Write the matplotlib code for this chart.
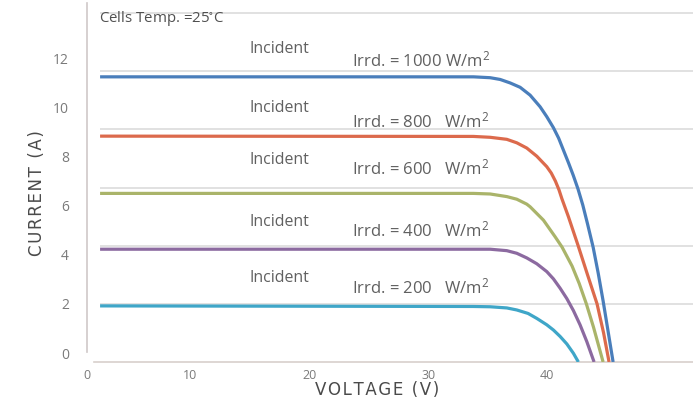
import matplotlib.pyplot as plt

plt.rcParams['font.family'] = ['Open Sans', 'DejaVu Sans']
plt.rcParams['mathtext.default'] = 'regular'

# I-V curves: voltage (V), current (A)
v_1000 = [2.4, 33.81, 35.21, 36.05, 36.89, 37.73, 38.57, 39.41, 39.97, 40.53, 40.97, 41.37,
          41.80, 42.20, 42.60, 43.00, 43.40, 43.87, 44.30, 44.71, 45.13, 45.55]
i_1000 = [9.81, 9.81, 9.78, 9.72, 9.60, 9.45, 9.18, 8.78, 8.44, 8.06, 7.70, 7.29,
          6.85, 6.42, 5.95, 5.40, 4.75, 3.95, 3.05, 2.10, 1.05, 0.0]
v_800 = [2.4, 33.8, 35.21, 36.61, 37.45, 38.29, 39.13, 39.97, 40.35, 40.70, 41.00, 41.24,
         41.79, 42.61, 43.40, 44.20, 44.75, 45.21]
i_800 = [7.77, 7.76, 7.73, 7.66, 7.54, 7.36, 7.08, 6.72, 6.50, 6.22, 5.92, 5.62,
         5.00, 4.00, 3.00, 2.00, 1.00, 0.0]
v_600 = [2.4, 33.81, 35.21, 36.61, 37.45, 38.29, 38.57, 39.69, 40.67, 41.26, 42.10, 42.70,
         43.30, 43.90, 44.71]
i_600 = [5.80, 5.80, 5.78, 5.69, 5.60, 5.43, 5.34, 4.88, 4.31, 3.95, 3.30, 2.70,
         2.00, 1.20, 0.0]
v_400 = [2.4, 33.8, 35.21, 36.61, 37.45, 38.29, 39.13, 39.97, 40.53, 41.09, 41.66, 42.21,
         42.77, 43.34, 43.95]
i_400 = [3.88, 3.88, 3.88, 3.83, 3.74, 3.58, 3.38, 3.11, 2.86, 2.54, 2.18, 1.77,
         1.28, 0.70, 0.0]
v_200 = [2.4, 33.8, 35.21, 36.61, 37.45, 38.4, 39.13, 39.97, 40.53, 41.09, 41.66, 42.21, 42.63]
i_200 = [1.93, 1.91, 1.90, 1.86, 1.79, 1.67, 1.50, 1.28, 1.10, 0.88, 0.62, 0.30, 0.0]

curves = [(v_1000, i_1000, '#4a7ebb'), (v_800, i_800, '#dc6a4c'),
          (v_600, i_600, '#aab46a'), (v_400, i_400, '#8c6aa0'),
          (v_200, i_200, '#3fa6c8')]

irrd_labels = ['Irrd. = 1000 W/m$^2$', 'Irrd. = 800   W/m$^2$', 'Irrd. = 600   W/m$^2$',
               'Irrd. = 400   W/m$^2$', 'Irrd. = 200   W/m$^2$']
irrd_y = [10.38, 8.29, 6.67, 4.54, 2.58]
incident_y = [10.76, 8.73, 6.95, 4.82, 2.89]

grid_y = [2, 4, 6, 8, 10, 12]
xtick_pos = [1.3, 10, 20, 30, 40]
xtick_lab = ['0', '10', '20', '30', '40']
ytick_lab = [0, 2, 4, 6, 8, 10, 12]

fig = plt.figure(figsize=(6.93, 4.03), dpi=100)
ax = fig.add_axes([87 / 693, 41 / 403, 606 / 693, 359 / 403])
ax.set_xlim(1.34, 52.27)
ax.set_ylim(0, 12.35)

ax.hlines(grid_y, 2.4, 52.27, color='#dcdcdc', lw=1.2, zorder=1)
for v, i, c in curves:
    ax.plot(v, i, color=c, lw=2.3, solid_capstyle='butt', solid_joinstyle='round', zorder=3)

for k in range(5):
    ax.text(15.0, incident_y[k], 'Incident', fontsize=11.4, color='#606060', va='center')
    ax.text(23.6, irrd_y[k], irrd_labels[k], fontsize=12, color='#606060', va='center')
ax.text(2.3, 11.8, 'Cells Temp. =25$^{\\circ}$C', fontsize=10.8, color='#505050', va='center')

for s in ['top', 'right']:
    ax.spines[s].set_visible(False)
ax.spines['left'].set_color('#cfc8c8')
ax.spines['left'].set_linewidth(1.2)
ax.spines['left'].set_bounds(0.35, 12.35)
ax.spines['bottom'].set_color('#d8d0cc')
ax.spines['bottom'].set_linewidth(1.2)
ax.spines['bottom'].set_bounds(1.85, 52.27)

ax.set_yticks([])
ax.set_xticks(xtick_pos, xtick_lab)
ax.tick_params(axis='x', length=0, pad=5, labelsize=9, labelcolor='#7a7a7a')

lab = ax.twinx()
lab.set_ylim(-0.366, 14.24)
lab.yaxis.tick_left()
lab.set_yticks(ytick_lab)
lab.tick_params(axis='y', length=0, pad=13, labelsize=10, labelcolor='#7a7a7a')
for s in lab.spines.values():
    s.set_visible(False)

hs = '\u200a'
fig.text(377 / 693, 1 - 390 / 403, hs.join('VOLTAGE (V)'), fontsize=12, color='#4a4a4a',
         family='DejaVu Sans', ha='center', va='center')
fig.text(37 / 693, 1 - 193 / 403, hs.join('CURRENT (A)'), fontsize=12, color='#4a4a4a',
         family='DejaVu Sans', ha='center', va='center', rotation=90)

fig.savefig('out.png', dpi=100)
